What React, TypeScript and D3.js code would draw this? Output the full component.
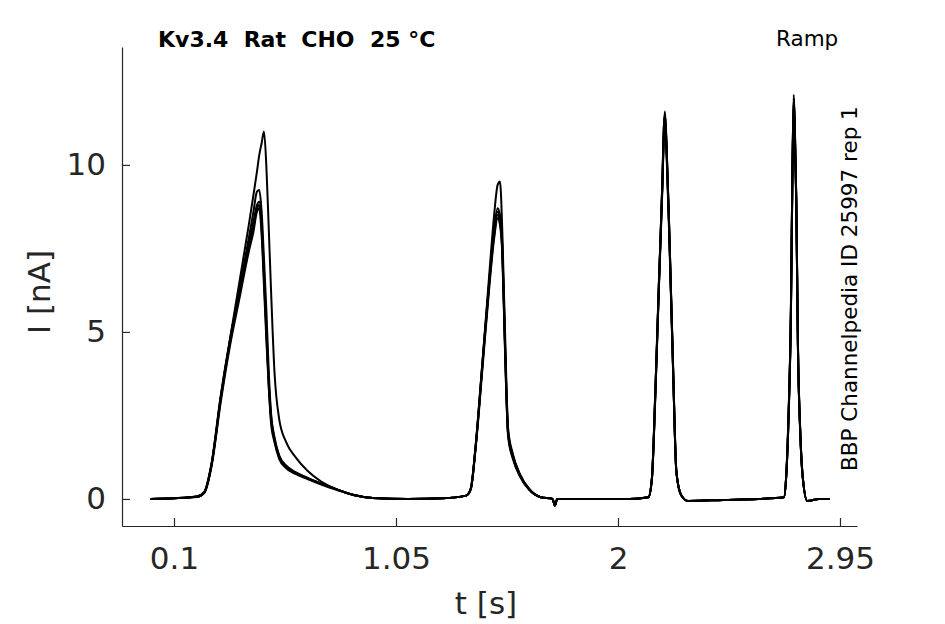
import * as d3 from 'd3';
import React, { useEffect, useRef } from 'react';

// time grid [s], shared by every sweep
const tSec = [
  0.0, 0.1, 0.2, 0.23, 0.26, 0.3, 0.34, 0.38, 0.42, 0.44,
  0.455, 0.465, 0.475, 0.485, 0.495, 0.505, 0.515, 0.53, 0.55, 0.58,
  0.62, 0.67, 0.73, 0.8, 0.87, 0.95, 1.1, 1.25, 1.35, 1.37,
  1.39, 1.42, 1.45, 1.47, 1.485, 1.495, 1.505, 1.515, 1.53, 1.55,
  1.58, 1.62, 1.67, 1.72, 1.73, 1.74, 1.9, 2.05, 2.13, 2.145,
  2.16, 2.175, 2.19, 2.196, 2.201, 2.208, 2.22, 2.235, 2.25, 2.27,
  2.3, 2.45, 2.6, 2.71, 2.72, 2.73, 2.74, 2.746, 2.752, 2.757,
  2.763, 2.77, 2.78, 2.79, 2.81, 2.86, 2.905,
];

// current [nA] per repetition
const sweepA = [
  0.0, 0.02, 0.07, 0.2, 1.0, 3.0, 4.7, 6.1, 7.5, 8.1,
  8.7, 8.8, 8.1, 6.6, 5.0, 3.5, 2.4, 1.75, 1.25, 0.95,
  0.78, 0.62, 0.45, 0.27, 0.12, 0.03, 0.0, 0.02, 0.1, 0.3,
  1.5, 4.0, 6.5, 7.9, 8.5, 8.3, 7.4, 4.9, 1.9, 1.25,
  0.7, 0.28, 0.05, 0.0, -0.2, 0.0, 0.0, 0.0, 0.05, 0.6,
  3.2, 6.4, 9.4, 10.9, 11.4, 10.4, 7.8, 4.1, 0.8, 0.12,
  -0.06, -0.03, 0.0, 0.05, 0.7, 2.5, 5.6, 9.4, 11.9, 10.9,
  8.9, 4.6, 2.0, 0.7, -0.06, 0.0, 0.0,
];
const sweepB = [
  0.0, 0.02, 0.06, 0.18, 0.95, 2.9, 4.6, 6.0, 7.4, 8.0,
  8.6, 8.7, 7.9, 6.4, 4.8, 3.4, 2.3, 1.7, 1.2, 0.92,
  0.75, 0.6, 0.43, 0.26, 0.11, 0.03, 0.0, 0.02, 0.1, 0.28,
  1.45, 3.9, 6.4, 7.8, 8.4, 8.2, 7.3, 4.8, 1.85, 1.2,
  0.68, 0.27, 0.05, 0.0, -0.2, 0.0, 0.0, 0.0, 0.05, 0.58,
  3.1, 6.3, 9.3, 10.8, 11.3, 10.3, 7.7, 4.0, 0.78, 0.12,
  -0.06, -0.03, 0.0, 0.05, 0.68, 2.4, 5.5, 9.3, 11.8, 10.8,
  8.8, 4.5, 1.95, 0.68, -0.06, 0.0, 0.0,
];
const sweepC = [
  0.0, 0.02, 0.08, 0.22, 1.05, 3.1, 4.8, 6.2, 7.6, 8.3,
  8.8, 8.9, 8.3, 6.8, 5.2, 3.6, 2.5, 1.8, 1.3, 1.0,
  0.8, 0.64, 0.46, 0.28, 0.12, 0.03, 0.0, 0.02, 0.1, 0.32,
  1.55, 4.1, 6.6, 8.0, 8.6, 8.4, 7.5, 5.0, 1.95, 1.3,
  0.72, 0.29, 0.05, 0.0, -0.2, 0.0, 0.0, 0.0, 0.05, 0.62,
  3.3, 6.5, 9.5, 11.0, 11.5, 10.5, 7.9, 4.2, 0.82, 0.12,
  -0.06, -0.03, 0.0, 0.05, 0.72, 2.6, 5.7, 9.5, 12.0, 11.0,
  9.0, 4.7, 2.05, 0.72, -0.06, 0.0, 0.0,
];
const sweepD = [
  0.0, 0.02, 0.07, 0.2, 1.0, 3.0, 4.75, 6.3, 7.8, 8.6,
  9.2, 9.25, 8.6, 7.2, 5.7, 3.9, 2.6, 1.85, 1.3, 0.97,
  0.79, 0.63, 0.46, 0.28, 0.12, 0.03, 0.0, 0.02, 0.1, 0.3,
  1.5, 4.05, 6.6, 8.1, 8.7, 8.5, 7.6, 5.1, 2.0, 1.3,
  0.72, 0.29, 0.05, 0.0, -0.2, 0.0, 0.0, 0.0, 0.05, 0.6,
  3.2, 6.4, 9.5, 11.1, 11.5, 10.5, 7.9, 4.1, 0.8, 0.12,
  -0.06, -0.03, 0.0, 0.05, 0.7, 2.5, 5.6, 9.5, 12.0, 11.0,
  8.9, 4.6, 2.0, 0.7, -0.06, 0.0, 0.0,
];
const sweepE = [
  0.0, 0.02, 0.07, 0.2, 1.0, 3.05, 4.8, 6.5, 8.2, 9.1,
  9.8, 10.3, 10.65, 11.0, 10.0, 8.2, 6.3, 3.8, 2.4, 1.7,
  1.25, 0.85, 0.52, 0.28, 0.12, 0.03, 0.0, 0.02, 0.1, 0.3,
  1.5, 4.1, 6.8, 8.5, 9.4, 9.5, 8.0, 5.4, 2.1, 1.35,
  0.75, 0.3, 0.05, 0.0, -0.2, 0.0, 0.0, 0.0, 0.05, 0.6,
  3.2, 6.4, 9.5, 11.1, 11.6, 10.6, 7.9, 4.1, 0.8, 0.12,
  -0.06, -0.03, 0.0, 0.05, 0.7, 2.5, 5.7, 9.6, 12.1, 11.1,
  9.0, 4.6, 2.0, 0.7, -0.06, 0.0, 0.0,
];

const sweeps = [sweepA, sweepB, sweepC, sweepD, sweepE];

const xTicks = [0.1, 1.05, 2, 2.95];
const xTickLabels = ['0.1', '1.05', '2', '2.95'];
const yTicks = [0, 5, 10];

const title = 'Kv3.4  Rat  CHO  25 \u00b0C';
const protocol = 'Ramp';
const sideNote = 'BBP Channelpedia ID 25997 rep 1';

const W = 945;
const H = 624;
const axisColor = '#262626';
const font = "'DejaVu Sans', sans-serif";

const App: React.FC = () => {
  const svgRef = useRef<SVGSVGElement>(null);

  useEffect(() => {
    if (!svgRef.current) return;
    const svg = d3.select(svgRef.current);
    svg.selectAll('*').remove();

    const x = d3.scaleLinear().domain([-0.1225, 3.0228]).range([122, 857]);
    const y = d3.scaleLinear().domain([-0.81, 13.53]).range([526, 47]);

    const line = d3.line<number>()
      .x((_, i) => x(tSec[i]))
      .y(d => y(d))
      .curve(d3.curveMonotoneX);

    svg.append('g')
      .selectAll('path')
      .data(sweeps)
      .join('path')
      .attr('fill', 'none')
      .attr('stroke', '#000')
      .attr('stroke-width', 2)
      .attr('stroke-linejoin', 'round')
      .attr('d', d => line(d));

    const xAxis = svg.append('g')
      .attr('transform', `translate(0,${y.range()[0]})`)
      .call(
        d3.axisBottom(x)
          .tickValues(xTicks)
          .tickFormat((_, i) => xTickLabels[i])
          .tickSizeInner(-8)
          .tickSizeOuter(0)
          .tickPadding(21)
      );

    const yAxis = svg.append('g')
      .attr('transform', `translate(${x.range()[0]},0)`)
      .call(
        d3.axisLeft(y)
          .tickValues(yTicks)
          .tickFormat(d3.format('d'))
          .tickSizeInner(-8)
          .tickSizeOuter(0)
          .tickPadding(16)
      );

    [xAxis, yAxis].forEach(g => {
      g.select('.domain').attr('stroke', axisColor).attr('stroke-width', 1.2);
      g.selectAll('.tick line').attr('stroke', axisColor).attr('stroke-width', 1.2);
      g.selectAll('.tick text')
        .attr('fill', axisColor)
        .style('font-family', font)
        .style('font-size', '31px');
    });

    svg.append('text')
      .attr('x', 486)
      .attr('y', 614)
      .attr('text-anchor', 'middle')
      .attr('fill', axisColor)
      .style('font-family', font)
      .style('font-size', '31px')
      .text('t [s]');

    svg.append('text')
      .attr('transform', 'translate(50,292) rotate(-90)')
      .attr('text-anchor', 'middle')
      .attr('fill', axisColor)
      .style('font-family', font)
      .style('font-size', '31px')
      .text('I [nA]');

    svg.append('text')
      .attr('x', 158)
      .attr('y', 47)
      .attr('fill', '#000')
      .style('font-family', font)
      .style('font-weight', 'bold')
      .style('font-size', '22px')
      .style('white-space', 'pre')
      .text(title);

    svg.append('text')
      .attr('x', 776)
      .attr('y', 46)
      .attr('fill', '#000')
      .style('font-family', font)
      .style('font-size', '21.5px')
      .text(protocol);

    svg.append('text')
      .attr('transform', 'translate(857,471) rotate(-90)')
      .attr('fill', '#000')
      .style('font-family', font)
      .style('font-size', '21.5px')
      .text(sideNote);
  }, []);

  return (
    <div style={{ position: 'absolute', left: 0, top: 0, width: W, height: H, background: '#fff' }}>
      <svg ref={svgRef} width={W} height={H} />
    </div>
  );
};

export default App;
